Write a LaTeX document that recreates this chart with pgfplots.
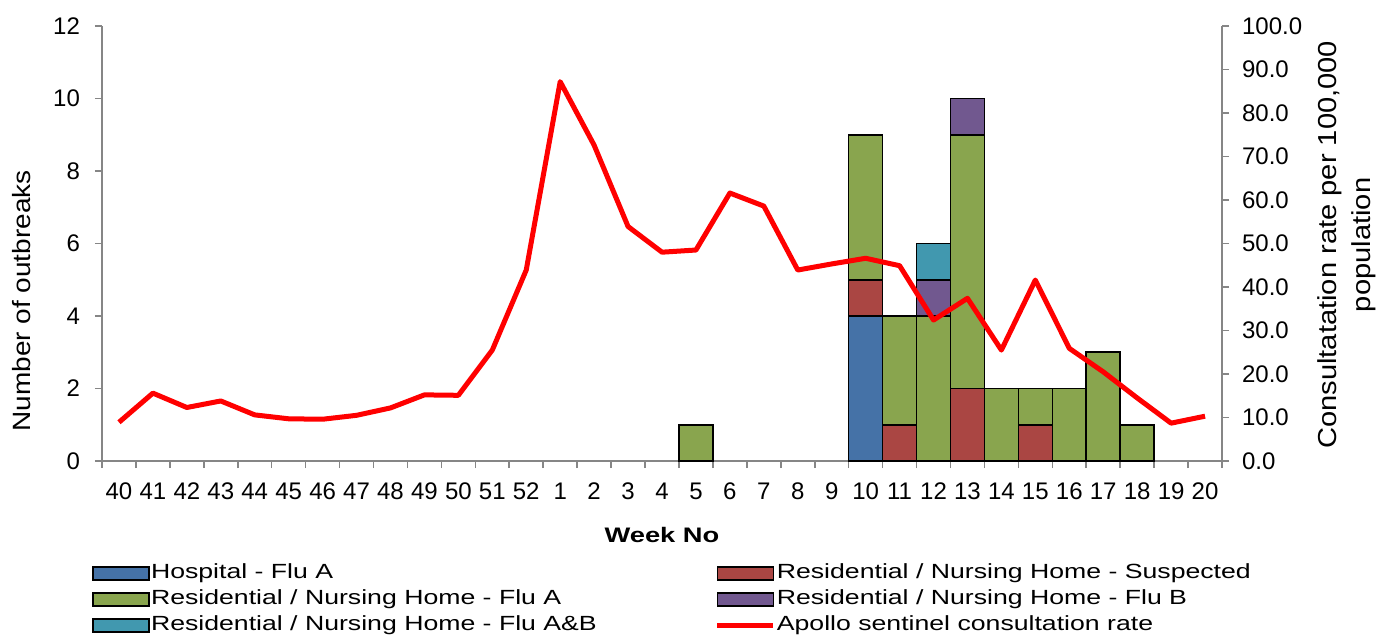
\documentclass[border=0pt]{standalone}
\usepackage{fontspec}
\setmainfont{Liberation Sans}
\newfontfamily\wideA{Liberation Sans}[FakeStretch=1.3]
\newfontfamily\wideB{Liberation Sans}[FakeStretch=1.12]
\usepackage{pgfplots}
\usepackage{pgfplotstable}
\pgfplotsset{compat=1.18}
\definecolor{cBlue}{HTML}{4572A7}
\definecolor{cRed}{HTML}{AA4643}
\definecolor{cGreen}{HTML}{89A54E}
\definecolor{cPurple}{HTML}{71588F}
\definecolor{cTeal}{HTML}{4198AF}
\definecolor{axisgray}{HTML}{868686}
\pgfplotsset{
  lineleg/.style={legend image code/.code={\draw[##1] (0pt,0pt) -- (28pt,0pt);}},
  boxleg/.style={legend image code/.code={\draw[##1,draw=black,line width=0.8pt] (0pt,-3.25pt) rectangle (28pt,3.25pt);}},
}

\pgfplotstableread{
x  hosp susp flua flub fluab
17 0 0 1 0 0
22 4 1 4 0 0
23 0 1 3 0 0
24 0 0 4 1 1
25 0 2 7 1 0
26 0 0 2 0 0
27 0 1 1 0 0
28 0 0 2 0 0
29 0 0 3 0 0
30 0 0 1 0 0
}\bars

\pgfplotstableread{
x rate
0 8.9
1 15.6
2 12.3
3 13.8
4 10.6
5 9.7
6 9.6
7 10.5
8 12.2
9 15.2
10 15.1
11 25.5
12 43.9
13 87.2
14 72.6
15 53.9
16 48.0
17 48.5
18 61.6
19 58.6
20 43.9
21 45.3
22 46.6
23 44.9
24 32.4
25 37.4
26 25.5
27 41.6
28 25.9
29 20.5
30 14.5
31 8.7
32 10.3
}\rate

\begin{document}
\begin{tikzpicture}
\pgfplotsset{
  common/.style={
    scale only axis, width=560pt, height=217.5pt,
    xmin=-0.5, xmax=32.5,
    axis line style={draw=axisgray, line width=0.8pt},
    tick align=outside,
    major tick length=3.5pt,
    tick style={draw=axisgray, line width=0.8pt},
    /pgf/number format/assume math mode=true,
    ticklabel style={font=\fontsize{12}{14}\selectfont},
  }
}
\begin{axis}[common,
  ymin=0, ymax=12,
  axis x line*=bottom, axis y line*=left,
  xtick={-0.5,0.5,...,32.5},
  x tick label as interval,
  xticklabels={40,41,42,43,44,45,46,47,48,49,50,51,52,1,2,3,4,5,6,7,8,9,10,11,12,13,14,15,16,17,18,19,20},
  xticklabel style={yshift=-4pt},
  ytick={0,2,...,12},
  yticklabel style={xshift=-4pt},
  ylabel={Number of outbreaks},
  ylabel style={at={(axis description cs:-0.0714,0.368)}, anchor=center, font=\wideB\fontsize{12.5}{14}\selectfont},
  xlabel={Week No},
  xlabel style={at={(axis description cs:0.5,-0.170)}, anchor=center, font=\wideA\bfseries\fontsize{10.5}{12}\selectfont},
  ybar stacked, bar width=1,
  legend columns=2,
  boxleg,
  legend style={draw=none, fill=none, at={(axis description cs:-0.0089,-0.2322)}, anchor=north west,
    font=\wideA\fontsize{10.25}{12}\selectfont, cells={anchor=west},
    nodes={inner sep=0.5pt, text height=7.5pt, text depth=2.5pt},
    row sep=2pt, inner sep=0pt,
    /tikz/every even column/.append style={column sep=58.5pt}},
]
\addplot[fill=cBlue, draw=black, line width=0.8pt] table[x=x, y=hosp] {\bars};
\addlegendentry{Hospital - Flu A}
\addplot[fill=cRed, draw=black, line width=0.8pt] table[x=x, y=susp] {\bars};
\addlegendentry{Residential / Nursing Home - Suspected}
\addplot[fill=cGreen, draw=black, line width=0.8pt] table[x=x, y=flua] {\bars};
\addlegendentry{Residential / Nursing Home - Flu A}
\addplot[fill=cPurple, draw=black, line width=0.8pt] table[x=x, y=flub] {\bars};
\addlegendentry{Residential / Nursing Home - Flu B}
\addplot[fill=cTeal, draw=black, line width=0.8pt] table[x=x, y=fluab] {\bars};
\addlegendentry{Residential / Nursing Home - Flu A\&B}
\addlegendimage{red, line width=2.5pt, lineleg}
\addlegendentry{Apollo sentinel consultation rate}
\end{axis}
\begin{axis}[common,
  ymin=0, ymax=100,
  axis y line*=right, axis x line=none,
  ytick={0,10,...,100},
  yticklabel style={xshift=3pt, /pgf/number format/.cd, fixed, fixed zerofill, precision=1},
  ylabel={Consultatation rate per 100,000\\population},
  ylabel style={at={(axis description cs:1.1116,0.497)}, anchor=center, align=center, font=\wideB\fontsize{13}{17}\selectfont},
]
\addplot[red, line width=2.5pt, line join=round, no markers] table[x=x, y=rate] {\rate};
\end{axis}
\pgfresetboundingbox
\path (-51pt,-87.5pt) rectangle (646.5pt,230.5pt);
\end{tikzpicture}
\end{document}
